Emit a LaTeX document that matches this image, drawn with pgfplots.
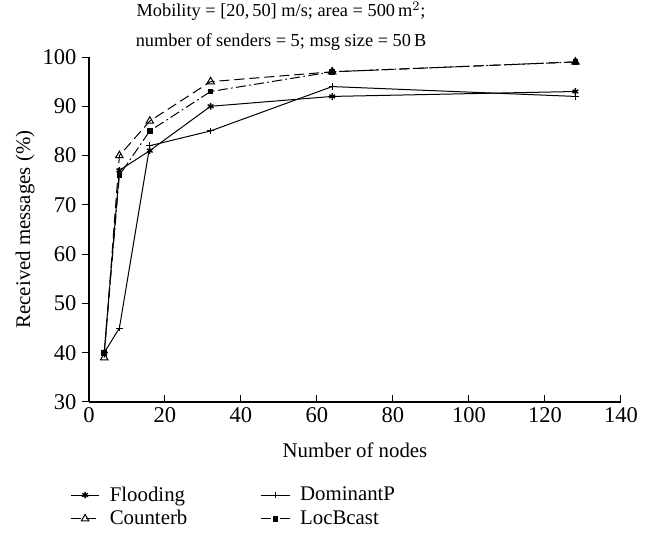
\documentclass[border=0pt]{standalone}
\usepackage{fontspec}
\setmainfont{Liberation Serif}
\usepackage{pgfplots}
\pgfplotsset{compat=1.18}

\begin{document}
\begin{tikzpicture}
\begin{axis}[
  name=ax,
  width=319.2pt, height=207pt, scale only axis,
  xmin=0, xmax=140, ymin=30, ymax=100,
  xtick={0,20,...,140}, ytick={30,40,...,100},
  axis x line*=bottom, axis y line*=left,
  axis line style={-, line width=0.7pt},
  tick style={black, line width=0.6pt},
  xtick align=inside, ytick align=outside,
  major tick length=4pt,
  /pgf/number format/assume math mode=true,
  ticklabel style={font=\fontsize{13.5pt}{15pt}\selectfont},
  xlabel={Number of nodes}, ylabel={Received messages (\%)},
  label style={font=\fontsize{12.5pt}{15pt}\selectfont},
  xlabel style={at={(axis description cs:0.5,-0.139)}, anchor=center},
  ylabel style={at={(axis description cs:-0.12,0.5)}, anchor=center},
  title={Mobility = [20,\,50] m/s; area = 500\,m$^2$;\\number of senders = 5; msg size = 50\,B},
  title style={align=center, font=\fontsize{11pt}{18pt}\selectfont,
    at={(axis description cs:0.361,1.085)}, anchor=center, yshift=-5pt},
  legend columns=2,
  legend style={draw=none, at={(-0.045,-0.225)}, anchor=north west,
    font=\fontsize{12.5pt}{14pt}\selectfont, cells={anchor=west},
    row sep=0pt,
    /tikz/every odd column/.append style={column sep=4pt},
    /tikz/every even column/.append style={column sep=42pt}},
  every axis plot/.append style={black, line width=0.6pt, mark size=2pt},
]
\addplot[mark=asterisk, mark options={solid, line width=0.8pt}] coordinates {
  (4,40) (8,77) (16,81) (32,90) (64,92) (128,93)};
\addlegendentry{Flooding}
\addplot[mark=+, mark options={solid}] coordinates {
  (4,40) (8,45) (16,82) (32,85) (64,94) (128,92)};
\addlegendentry{DominantP}
\addplot[dash pattern=on 6pt off 3pt, mark=triangle, mark size=2.6pt, mark options={solid}] coordinates {
  (4,39) (8,80) (16,87) (32,95) (64,97) (128,99)};
\addlegendentry{Counterb}
\addplot[dash pattern=on 6pt off 2pt on 1pt off 2pt, mark=square*, mark size=1.4pt, mark options={solid}] coordinates {
  (4,40) (8,76) (16,85) (32,93) (64,97) (128,99)};
\addlegendentry{LocBcast}
\end{axis}
\pgfresetboundingbox
\path ([shift={(-53.4pt,-81pt)}]ax.south west) rectangle ([shift={(21.6pt,34.2pt)}]ax.north east);
\end{tikzpicture}
\end{document}
